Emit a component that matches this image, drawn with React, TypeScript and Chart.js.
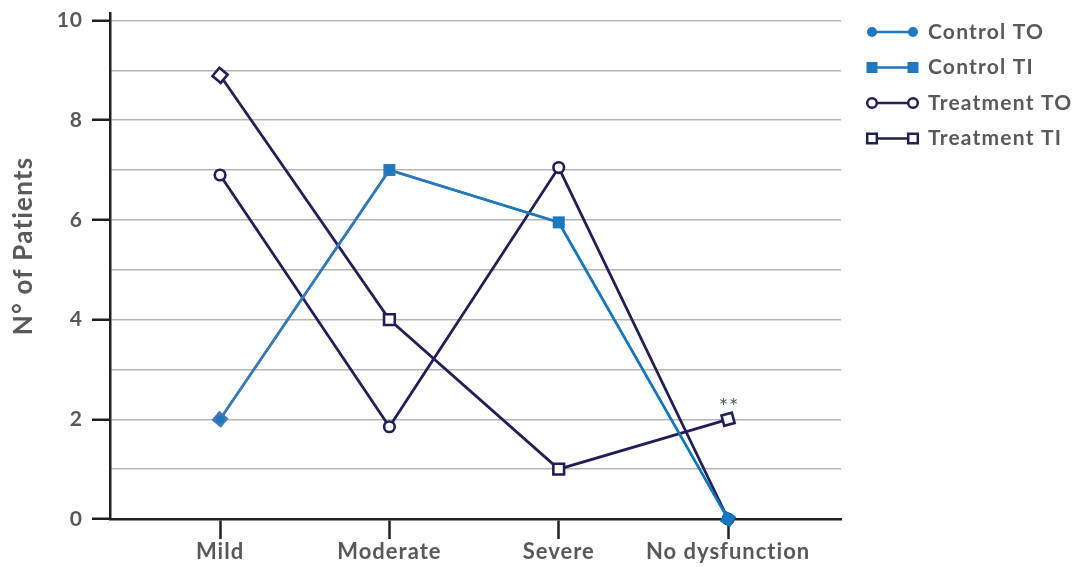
import React, { useEffect, useRef } from "react";
import { Chart, registerables } from "chart.js";

Chart.register(...registerables);

const categories = ["Mild", "Moderate", "Severe", "No dysfunction"];
const yTickValues = [0, 1, 2, 3, 4, 5, 6, 7, 8, 9, 10];
const controlTO = [2, 7, 5.95, 0];
const controlTI = [2, 7, 5.95, 0];
const treatmentTO = [6.9, 1.85, 7.05, 0];
const treatmentTI = [8.9, 4, 1, 2];
const controlRotation = [40, 0, 0, 30];
const treatmentTIRotation = [40, 0, 0, -15];
const legendLabels = ["Control TO", "Control TI", "Treatment TO", "Treatment TI"];
const yTitle = "N° of Patients";
const annotationText = "**";
const annotationIndex = 3;

const NAVY = "#211f56";
const BLUE = "#1f78bd";
const TEXT = "#58595b";
const AXIS = "#231f20";
const GRID = "#b5b5b5";
const FONT = "Lato";

const toXY = (arr: number[]) => arr.map((v, i) => ({ x: i, y: v }));

function blueGradient(ctx: any) {
  const chart = ctx.chart;
  const area = chart.chartArea;
  if (!area) return BLUE;
  const g = chart.ctx.createLinearGradient(area.left, 0, area.right, 0);
  g.addColorStop(0, "#4a7ab3");
  g.addColorStop(0.55, "#1f78bd");
  g.addColorStop(1, "#0077c2");
  return g;
}

const spacingPlugin = {
  id: "spacing",
  beforeDraw(chart: any) {
    (chart.ctx as any).letterSpacing = "1px";
  },
};

const overlayPlugin = {
  id: "overlay",
  afterDraw(chart: any) {
    const ctx = chart.ctx as any;
    ctx.save();
    // y title
    ctx.save();
    ctx.translate(24, 246);
    ctx.rotate(-Math.PI / 2);
    ctx.fillStyle = TEXT;
    ctx.letterSpacing = "1.2px";
    ctx.font = `bold 26px ${FONT}`;
    ctx.textAlign = "center";
    ctx.textBaseline = "middle";
    ctx.fillText(yTitle, 0, 0);
    ctx.restore();

    // annotation
    const meta = chart.getDatasetMeta(3);
    const pt = meta.data[annotationIndex];
    if (pt) {
      ctx.fillStyle = TEXT;
      ctx.letterSpacing = "1px";
      ctx.font = `22px ${FONT}`;
      ctx.textAlign = "center";
      ctx.textBaseline = "middle";
      ctx.fillText(annotationText, pt.x + 1, pt.y - 12);
    }

    // legend
    const rows = [32, 67.5, 103, 138.5];
    const styles = [
      { color: BLUE, shape: "circle", fill: true },
      { color: BLUE, shape: "square", fill: true },
      { color: NAVY, shape: "circle", fill: false },
      { color: NAVY, shape: "square", fill: false },
    ];
    legendLabels.forEach((label, i) => {
      const y = rows[i];
      const s = styles[i];
      const x1 = 872;
      const x2 = 913;
      ctx.strokeStyle = s.color;
      ctx.lineWidth = 2.5;
      ctx.beginPath();
      ctx.moveTo(x1, y);
      ctx.lineTo(x2, y);
      ctx.stroke();
      [x1, x2].forEach((x) => {
        ctx.beginPath();
        if (s.shape === "circle") {
          ctx.arc(x, y, s.fill ? 5 : 4.8, 0, Math.PI * 2);
        } else {
          const h = s.fill ? 5.5 : 4.8;
          ctx.rect(x - h, y - h, 2 * h, 2 * h);
        }
        if (s.fill) {
          ctx.fillStyle = s.color;
          ctx.fill();
        } else {
          ctx.fillStyle = "#ffffff";
          ctx.fill();
          ctx.lineWidth = 2.5;
          ctx.stroke();
        }
      });
      ctx.fillStyle = TEXT;
      ctx.letterSpacing = "1.2px";
      ctx.font = `bold 21px ${FONT}`;
      ctx.textAlign = "left";
      ctx.textBaseline = "middle";
      ctx.fillText(label, 928, y);
    });
    ctx.restore();
  },
};

export default function App() {
  const ref = useRef<HTMLCanvasElement | null>(null);

  useEffect(() => {
    if (!ref.current) return;
    const chart = new Chart(ref.current, {
      type: "line",
      data: {
        datasets: [
          {
            label: legendLabels[0],
            data: toXY(controlTO),
            borderColor: blueGradient,
            backgroundColor: BLUE,
            borderWidth: 2.5,
            pointStyle: "circle",
            pointRadius: 4,
            pointBorderWidth: 0,
            tension: 0,
            clip: false,
          },
          {
            label: legendLabels[1],
            data: toXY(controlTI),
            borderColor: blueGradient,
            backgroundColor: blueGradient,
            pointBackgroundColor: blueGradient,
            pointBorderColor: blueGradient,
            borderWidth: 2.5,
            pointStyle: "rect",
            pointRadius: 8.5,
            pointBorderWidth: 0,
            pointRotation: controlRotation,
            tension: 0,
            clip: false,
          },
          {
            label: legendLabels[2],
            data: toXY(treatmentTO),
            borderColor: NAVY,
            backgroundColor: "#ffffff",
            pointBackgroundColor: "#ffffff",
            pointBorderColor: NAVY,
            borderWidth: 2.8,
            pointStyle: "circle",
            pointRadius: 5.3,
            pointBorderWidth: 2.6,
            tension: 0,
            clip: false,
          },
          {
            label: legendLabels[3],
            data: toXY(treatmentTI),
            borderColor: NAVY,
            backgroundColor: "#ffffff",
            pointBackgroundColor: "#ffffff",
            pointBorderColor: NAVY,
            borderWidth: 2.8,
            pointStyle: "rect",
            pointRadius: 7.6,
            pointBorderWidth: 2.6,
            pointRotation: treatmentTIRotation,
            tension: 0,
            clip: false,
          },
        ],
      },
      options: {
        responsive: false,
        animation: false,
        events: [],
        layout: { padding: { left: 0, right: 235, top: 13, bottom: 0 } },
        plugins: {
          legend: { display: false },
          tooltip: { enabled: false },
        },
        scales: {
          x: {
            type: "linear",
            min: -0.65,
            max: 3.667,
            afterBuildTicks: (scale: any) => {
              scale.ticks = categories.map((_, i) => ({ value: i }));
            },
            afterFit: (scale: any) => {
              scale.height = 48;
              scale.paddingLeft = 0;
              scale.paddingRight = 0;
            },
            ticks: {
              callback: (v: any) => categories[Math.round(Number(v))] ?? "",
              color: TEXT,
              font: { family: FONT, size: 22, weight: "bold", lineHeight: 1 },
              padding: 2,
              maxRotation: 0,
              autoSkip: false,
            },
            grid: {
              drawOnChartArea: false,
              drawTicks: true,
              tickLength: 20,
              tickColor: AXIS,
              tickWidth: 2.5,
            },
            border: { display: true, color: AXIS, width: 2.5 },
          },
          y: {
            type: "linear",
            min: 0,
            max: 10.15,
            afterBuildTicks: (scale: any) => {
              scale.ticks = yTickValues.map((v) => ({ value: v }));
            },
            afterFit: (scale: any) => {
              scale.width = 110;
              scale.paddingTop = 0;
              scale.paddingBottom = 0;
            },
            ticks: {
              callback: (v: any) => (Number(v) % 2 === 0 ? String(v) : ""),
              color: TEXT,
              font: { family: FONT, size: 21, weight: "bold", lineHeight: 1 },
              padding: 9,
            },
            grid: {
              color: (c: any) => (c.tick && c.tick.value === 0 ? "rgba(0,0,0,0)" : GRID),
              lineWidth: 1.5,
              tickLength: 18,
              tickColor: (c: any) =>
                c.tick && c.tick.value % 2 === 0 ? AXIS : "rgba(0,0,0,0)",
              tickWidth: 2.5,
            },
            border: { display: true, color: AXIS, width: 2.5 },
          },
        },
      },
      plugins: [spacingPlugin, overlayPlugin],
    } as any);
    return () => chart.destroy();
  }, []);

  return (
    <div style={{ position: "fixed", left: 0, top: 0, width: 1076, height: 567, background: "#ffffff" }}>
      <canvas ref={ref} width={1076} height={567} style={{ width: 1076, height: 567 }} />
    </div>
  );
}
